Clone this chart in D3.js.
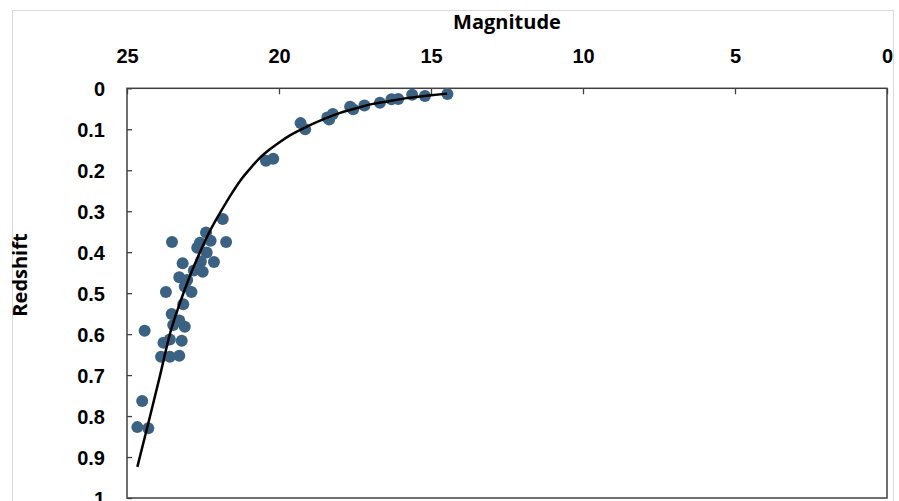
<!DOCTYPE html>
<html>
<head>
<meta charset="utf-8">
<script src="https://cdn.jsdelivr.net/npm/d3@7"></script>
<style>
  body { margin: 0; background: #fff; }
  svg { display: block; }
  .tick text { font-family: "Liberation Sans", Arial, sans-serif; font-weight: bold; font-size: 20px; fill: #000; }
  .tick line { stroke: #404040; stroke-width: 1.3; }
</style>
</head>
<body>
<script>
// values
var magnitude = [14.46, 15.2, 15.62, 16.08, 16.3, 16.68, 17.19, 17.56, 17.66, 18.23, 18.35, 18.41,
                 19.29, 19.14, 20.43, 20.19, 21.85, 23.52, 21.74, 22.40, 22.6, 22.25, 22.69, 22.38,
                 22.14, 22.57, 23.17, 22.51, 22.8, 23.28, 23.02, 23.1, 22.88, 23.72, 23.15, 23.53,
                 23.28, 23.48, 23.1, 24.42, 23.8, 23.59, 23.2, 23.88, 23.59, 23.28, 24.5, 24.66, 24.3];
var redshift  = [0.014, 0.019, 0.016, 0.026, 0.027, 0.035, 0.042, 0.051, 0.045, 0.063, 0.076, 0.071,
                 0.085, 0.100, 0.177, 0.172, 0.319, 0.375, 0.375, 0.352, 0.377, 0.372, 0.389, 0.401,
                 0.424, 0.423, 0.427, 0.448, 0.445, 0.461, 0.468, 0.484, 0.497, 0.497, 0.527, 0.551,
                 0.567, 0.578, 0.582, 0.592, 0.621, 0.613, 0.616, 0.655, 0.655, 0.653, 0.763, 0.827, 0.830];

// trend line
var fitMag = [24.66, 24.24, 23.91, 23.59, 23.26, 22.93, 22.60, 22.27, 21.94, 21.61, 21.28, 20.95,
              20.63, 20.30, 19.97, 19.64, 19.31, 18.98, 18.49, 17.99, 17.43, 16.91, 16.35, 15.79, 15.23, 14.47];
var fitZ   = [0.924, 0.800, 0.700, 0.600, 0.524, 0.458, 0.400, 0.348, 0.304, 0.263, 0.226, 0.196,
              0.170, 0.149, 0.131, 0.115, 0.102, 0.090, 0.074, 0.060, 0.048, 0.038, 0.031, 0.024, 0.019, 0.013];

var xTicks = [25, 20, 15, 10, 5, 0];
var yTicks = [0, 0.1, 0.2, 0.3, 0.4, 0.5, 0.6, 0.7, 0.8, 0.9, 1];

var W = 899, H = 501;
var plot = {left: 127, top: 88.3, right: 887, bottom: 498};

var svg = d3.select("body").append("svg")
    .attr("width", W)
    .attr("height", H);

// outer chart frame
svg.append("rect")
    .attr("x", 12.5).attr("y", 10.5)
    .attr("width", 881).attr("height", 500)
    .attr("fill", "none")
    .attr("stroke", "#d9d9d9")
    .attr("stroke-width", 1);

var x = d3.scaleLinear().domain([25, 0]).range([plot.left, plot.right]);
var y = d3.scaleLinear().domain([0, 1]).range([plot.top, plot.bottom]);

var xAxis = d3.axisTop(x)
    .tickValues(xTicks)
    .tickFormat(d3.format("d"))
    .tickSizeInner(-6)
    .tickSizeOuter(0)
    .tickPadding(25);

var yAxis = d3.axisLeft(y)
    .tickValues(yTicks)
    .tickFormat(function(d) { return d === 0 || d === 1 ? String(d) : d.toFixed(1); })
    .tickSizeInner(-5)
    .tickSizeOuter(0)
    .tickPadding(22);

var gx = svg.append("g")
    .attr("transform", "translate(0," + plot.top + ")")
    .call(xAxis);
gx.select(".domain").remove();

var gy = svg.append("g")
    .attr("transform", "translate(" + plot.left + ",0)")
    .call(yAxis);
gy.select(".domain").remove();
gy.selectAll(".tick text").attr("dy", "0.36em");

// plot border
svg.append("rect")
    .attr("x", plot.left).attr("y", plot.top)
    .attr("width", plot.right - plot.left)
    .attr("height", plot.bottom - plot.top)
    .attr("fill", "none")
    .attr("stroke", "#404040")
    .attr("stroke-width", 1.5);

// points
var pts = magnitude.map(function(m, i) { return {m: m, z: redshift[i]}; });
svg.append("g").selectAll("circle")
    .data(pts)
    .enter()
    .append("circle")
    .attr("cx", function(d) { return x(d.m); })
    .attr("cy", function(d) { return y(d.z); })
    .attr("r", 6)
    .attr("fill", "#3c6283");

// trend curve
var fit = fitMag.map(function(m, i) { return {m: m, z: fitZ[i]}; });
var line = d3.line()
    .x(function(d) { return x(d.m); })
    .y(function(d) { return y(d.z); })
    .curve(d3.curveMonotoneX);

svg.append("path")
    .datum(fit)
    .attr("d", line)
    .attr("fill", "none")
    .attr("stroke", "#000")
    .attr("stroke-width", 2.5);

// axis titles
svg.append("text")
    .attr("x", 507).attr("y", 29)
    .attr("text-anchor", "middle")
    .style("font-family", "'Open Sans', sans-serif")
    .style("font-weight", "bold")
    .style("font-size", "20px")
    .text("Magnitude");

svg.append("text")
    .attr("transform", "translate(27,275) rotate(-90)")
    .attr("text-anchor", "middle")
    .style("font-family", "'Open Sans', sans-serif")
    .style("font-weight", "bold")
    .style("font-size", "20px")
    .text("Redshift");
</script>
</body>
</html>
